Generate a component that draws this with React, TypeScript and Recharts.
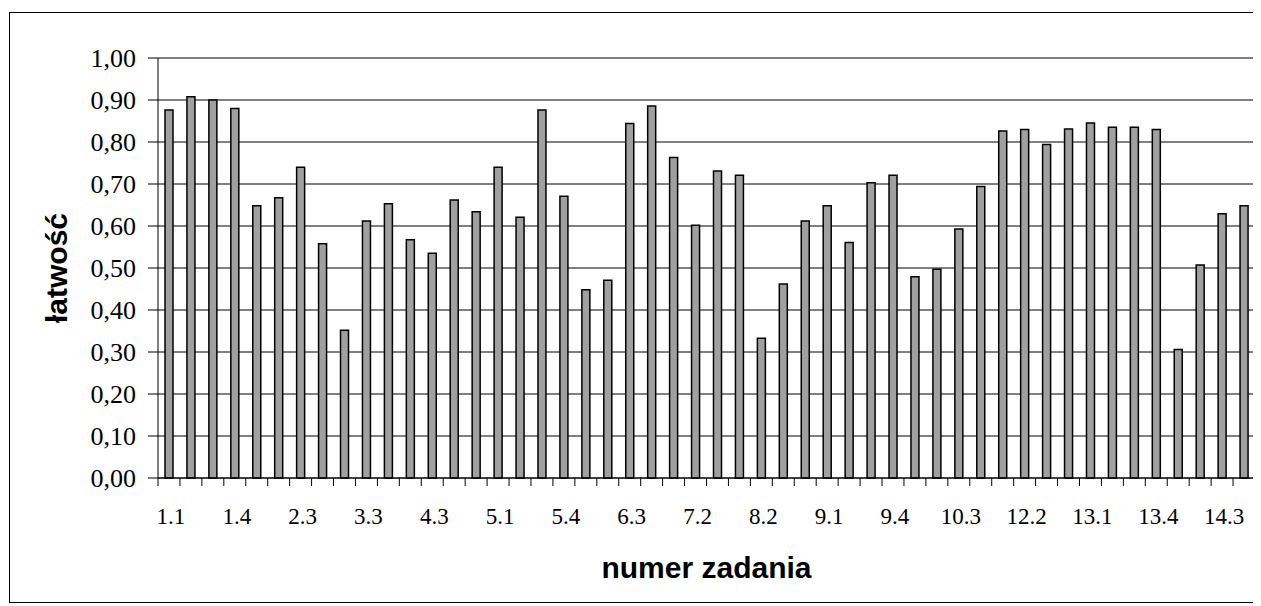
import { Bar, BarChart, CartesianGrid, ReferenceLine, XAxis, YAxis } from "recharts";

// numery zadań (co trzecia etykieta jest widoczna na osi)
const questions = [
  "1.1", "1.2", "1.3", "1.4", "2.1", "2.2", "2.3", "3.1", "3.2", "3.3",
  "4.1", "4.2", "4.3", "4.4", "4.5", "5.1", "5.2", "5.3", "5.4", "6.1",
  "6.2", "6.3", "6.4", "7.1", "7.2", "7.3", "8.1", "8.2", "8.3", "8.4",
  "9.1", "9.2", "9.3", "9.4", "10.1", "10.2", "10.3", "11.1", "12.1", "12.2",
  "12.3", "12.4", "13.1", "13.2", "13.3", "13.4", "14.1", "14.2", "14.3", "14.4",
];

const easiness = [
  0.876, 0.908, 0.9, 0.88, 0.648, 0.667, 0.74, 0.558, 0.352, 0.612,
  0.653, 0.567, 0.535, 0.662, 0.634, 0.74, 0.621, 0.876, 0.671, 0.448,
  0.471, 0.844, 0.886, 0.763, 0.602, 0.731, 0.721, 0.333, 0.462, 0.612,
  0.648, 0.561, 0.703, 0.721, 0.479, 0.497, 0.593, 0.694, 0.826, 0.83,
  0.794, 0.831, 0.845, 0.835, 0.835, 0.83, 0.306, 0.507, 0.629, 0.648,
];

const yTicks = [0, 0.1, 0.2, 0.3, 0.4, 0.5, 0.6, 0.7, 0.8, 0.9, 1];

const data = questions.map((q, i) => ({ q, v: easiness[i] }));

const W = 1253;
const H = 598;
const M = { top: 50, right: 6, bottom: 0, left: 0 };
const Y_W = 150;
const X_H = 128;
const PLOT_W = W - M.left - M.right - Y_W;
const PLOT_H = H - M.top - M.bottom - X_H;
const BAND = PLOT_W / questions.length;

const serif = "'Liberation Serif', 'Times New Roman', serif";
const sans = "'Liberation Sans', Arial, sans-serif";

const fmt = (v: number) => v.toFixed(2).replace(".", ",");

function XTick(props: any) {
  const { x, y, index, payload } = props;
  const left = x - BAND / 2;
  const last = index === questions.length - 1;
  return (
    <g>
      <line x1={left} x2={left} y1={y} y2={y + 8} stroke="#000" />
      {last ? (
        <>
          <line x1={left + BAND} x2={left + BAND} y1={y} y2={y + 8} stroke="#000" />
          <line x1={left + BAND} x2={left + BAND} y1={y - PLOT_H} y2={y} stroke="#808080" />
        </>
      ) : null}
      {index % 3 === 0 ? (
        <text x={x + 2} y={y + 46} textAnchor="middle" fontFamily={serif} fontSize={23} fill="#000">
          {payload.value}
        </text>
      ) : null}
    </g>
  );
}

export default function App() {
  return (
    <div style={{ position: "relative", width: W, height: H }}>
      <div
        style={{
          position: "absolute",
          left: 1,
          top: 4,
          width: 1250,
          height: 591,
          boxSizing: "border-box",
          border: "1px solid #000",
          pointerEvents: "none",
        }}
      />
      <BarChart width={W} height={H} data={data} margin={M} barSize={8}>
        <CartesianGrid vertical={false} stroke="#000" strokeWidth={1} />
        <ReferenceLine y={1} stroke="#808080" />
        <XAxis
          dataKey="q"
          interval={0}
          height={X_H}
          tickLine={false}
          tickSize={0}
          tickMargin={0}
          axisLine={{ stroke: "#000" }}
          tick={<XTick />}
          label={{
            content: (p: any) => (
              <text
                x={p.viewBox.x + p.viewBox.width / 2}
                y={p.viewBox.y + 100}
                textAnchor="middle"
                fontFamily={sans}
                fontWeight="bold"
                fontSize={30}
                fill="#000"
              >
                numer zadania
              </text>
            ),
          }}
        />
        <YAxis
          width={Y_W}
          domain={[0, 1]}
          ticks={yTicks}
          tickFormatter={fmt}
          tickSize={10}
          tickMargin={12}
          axisLine={{ stroke: "#000" }}
          tickLine={{ stroke: "#000" }}
          tick={{ fill: "#000", fontFamily: serif, fontSize: 26 }}
          label={{
            content: (p: any) => {
              const cx = p.viewBox.x + 59;
              const cy = p.viewBox.y + p.viewBox.height / 2;
              return (
                <text
                  x={cx}
                  y={cy}
                  transform={`rotate(-90 ${cx} ${cy})`}
                  textAnchor="middle"
                  fontFamily={sans}
                  fontWeight="bold"
                  fontSize={30}
                  fill="#000"
                >
                  łatwość
                </text>
              );
            },
          }}
        />
        <Bar dataKey="v" fill="#a0a0a0" stroke="#000" strokeWidth={1.5} isAnimationActive={false} />
      </BarChart>
    </div>
  );
}
